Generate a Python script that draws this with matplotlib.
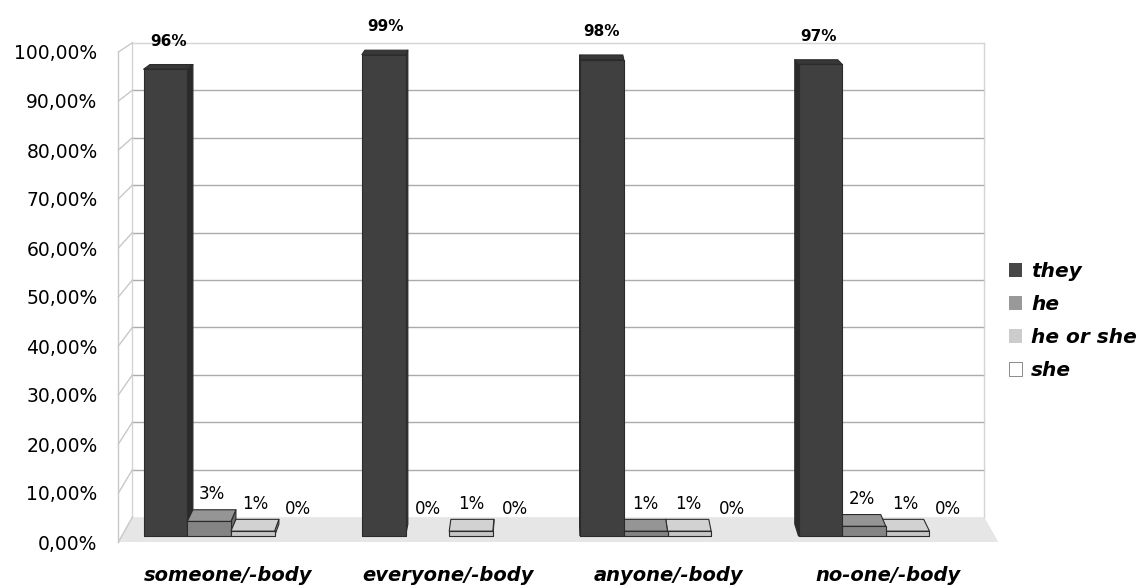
import numpy as np
import matplotlib.pyplot as plt
from matplotlib.patches import Polygon, Patch

categories = ['someone/-body', 'everyone/-body', 'anyone/-body', 'no-one/-body']
series = ['they', 'he', 'he or she', 'she']
they = [96, 99, 98, 97]
he = [3, 0, 1, 2]
he_or_she = [1, 1, 1, 1]
she = [0, 0, 0, 0]
yticks = np.arange(0, 101, 10)

values = [they, he, he_or_she, she]
# front, top, side, legend
shades = [
    ('#404040', '#383838', '#2a2a2a', '#474747'),
    ('#848484', '#959595', '#6a6a6a', '#999999'),
    ('#c6c6c6', '#d2d2d2', '#a8a8a8', '#cccccc'),
    ('#ffffff', '#ffffff', '#e0e0e0', '#ffffff'),
]

# fake perspective: everything shrinks toward a vanishing point with depth
U0, V0 = 1.485, 158.6
S_BAR_FRONT, S_BAR_BACK, S_WALL = 0.9923, 0.977, 0.968


def proj(u, v, s):
    return (U0 + (u - U0) * s, V0 + (v - V0) * s)


fig = plt.figure(figsize=(11.41, 5.86), dpi=100)
ax = fig.add_axes([118.4 / 1141, 44 / 586, 880 / 1141, 490 / 586])
ax.set_xlim(-0.5, 3.5)
ax.set_ylim(0, 100)
for sp in ax.spines.values():
    sp.set_visible(False)

x0, x1 = ax.get_xlim()

# floor
floor = [proj(x0, 0, 1), proj(x1, 0, 1), proj(x1, 0, S_WALL), proj(x0, 0, S_WALL)]
ax.add_patch(Polygon(floor, closed=True, facecolor='#e6e6e6', edgecolor='none',
                     zorder=0, clip_on=False))

# back wall grid and outline
for t in yticks[1:]:
    a, b = proj(x0, t, S_WALL), proj(x1, t, S_WALL)
    col = '#d4d4d4' if t == 100 else '#ababab'
    ax.plot([a[0], b[0]], [a[1], b[1]], color=col, lw=1, zorder=0.5, clip_on=False)
for xe in (x0, x1):
    a, b = proj(xe, 0, S_WALL), proj(xe, 100, S_WALL)
    ax.plot([a[0], b[0]], [a[1], b[1]], color='#d4d4d4', lw=1, zorder=0.5, clip_on=False)

# left side plane with slanted ticks
for t in yticks:
    a, b = proj(x0, t, 1), proj(x0, t, S_WALL)
    ax.plot([a[0], b[0]], [a[1], b[1]], color='#c8c8c8', lw=1, zorder=0.5, clip_on=False)
ax.plot([x0, x0], [0, 100], color='#c8c8c8', lw=1, zorder=0.5, clip_on=False)

width = 0.2
for j, vals in enumerate(values):
    front_c, top_c, side_c, _ = shades[j]
    for i, v in enumerate(vals):
        uL = i - 0.4 + j * width
        uR = uL + width
        uc = (uL + uR) / 2
        z = 5 - abs(uc - U0)
        if v > 0:
            sf, sb = S_BAR_FRONT, S_BAR_BACK
            if uR <= U0:
                ue = uR
            else:
                ue = uL
            side = [proj(ue, 0, sf), proj(ue, v, sf), proj(ue, v, sb), proj(ue, 0, sb)]
            top = [proj(uL, v, sf), proj(uR, v, sf), proj(uR, v, sb), proj(uL, v, sb)]
            front = [proj(uL, 0, sf), proj(uR, 0, sf), proj(uR, v, sf), proj(uL, v, sf)]
            for pts, c in ((side, side_c), (top, top_c), (front, front_c)):
                ax.add_patch(Polygon(pts, closed=True, facecolor=c, edgecolor='#2b2b2b',
                                     lw=0.8, joinstyle='round', zorder=z, clip_on=False))
        s_mid = (S_BAR_FRONT + S_BAR_BACK) / 2
        if j == 0:
            ax.annotate(f'{v}%', xy=proj(uc, v, s_mid), xytext=(0, 18.5),
                        textcoords='offset points', ha='center', va='center',
                        fontsize=11, fontweight='bold', annotation_clip=False)
        else:
            ax.annotate(f'{v}%', xy=proj(uc, v, s_mid), xytext=(0, 15.5),
                        textcoords='offset points', ha='center', va='center',
                        fontsize=12, annotation_clip=False)

ax.set_yticks(yticks, [f'{t:.2f}%'.replace('.', ',') for t in yticks], fontsize=13.5)
ax.set_xticks(range(len(categories)), categories, fontsize=14,
              fontweight='bold', fontstyle='italic')
ax.tick_params(axis='y', length=0, pad=15)
ax.tick_params(axis='x', length=0, pad=17)

handles = [Patch(facecolor=shades[j][3], edgecolor='#777777' if j == 3 else 'none',
                 lw=0.6) for j in range(len(series))]
fig.legend(handles, series, loc='center left', bbox_to_anchor=(1009 / 1141, 1 - 321 / 586),
           frameon=False, borderpad=0, borderaxespad=0, handlelength=0.65,
           handleheight=0.65, handletextpad=0.45, labelspacing=0.7,
           prop={'weight': 'bold', 'style': 'italic', 'size': 14.5})

fig.savefig('out.png', dpi=100)
